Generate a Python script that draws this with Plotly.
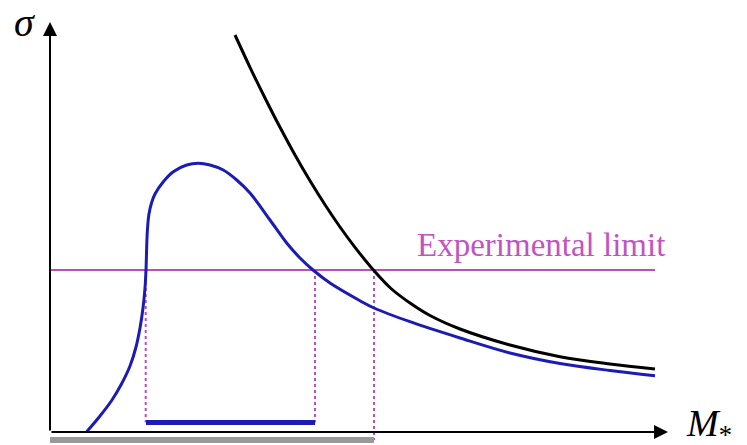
import plotly.graph_objects as go

# schematic units (no ticks), origin at the axes corner
signal_x = [36.7, 50, 62, 72, 80, 86, 90, 93, 95, 96, 96.6, 97.3, 98.8, 101.5, 105, 113.3,
            123.3, 136.7, 148.3, 160, 173.3, 186.7, 200, 220, 236.7, 250, 263, 280, 310, 324,
            360, 410, 460, 510, 560, 605]
signal_y = [0.3, 16, 32, 49, 66, 85, 104, 124, 144, 162, 182, 200, 217, 229, 238, 250.3,
            260.3, 267, 268.7, 267, 262, 252, 239, 212, 189, 174, 162, 149, 131.3, 124,
            110.3, 94, 79, 68.5, 61.5, 56.3]

bound_x = [185, 200, 215, 230, 245, 260, 275, 290, 305, 323, 341, 360, 380, 410, 460, 510, 560, 605]
bound_y = [397, 364.7, 334, 304.7, 277, 251.2, 227.2, 205, 184.7, 162.5, 143.5, 129, 116.5,
           103, 87, 75.3, 68, 63]

limit_y = 162
limit_x_end = 605
cross_x = [95.7, 265, 324]          # where curves meet the limit
excluded_band = [96, 265]           # blue segment
reach_band = [0, 324]               # gray segment
x_end, y_end = 618, 410

MAG = "#b94fbb"
BLUE = "#1c1cb4"

fig = go.Figure()

fig.add_trace(go.Scatter(x=[0, limit_x_end], y=[limit_y, limit_y], mode="lines",
                         line=dict(color=MAG, width=2)))

for i, cx in enumerate(cross_x):
    bottom = -8 if i == 2 else 9.5
    fig.add_trace(go.Scatter(x=[cx, cx], y=[limit_y, bottom], mode="lines",
                             line=dict(color=MAG, width=2, dash="dot")))

fig.add_trace(go.Scatter(x=signal_x, y=signal_y, mode="lines", line_shape="spline",
                         line=dict(color=BLUE, width=3)))
fig.add_trace(go.Scatter(x=bound_x, y=bound_y, mode="lines", line_shape="spline",
                         line=dict(color="black", width=3)))

fig.add_trace(go.Scatter(x=excluded_band, y=[9.5, 9.5], mode="lines",
                         line=dict(color=BLUE, width=5)))
fig.add_trace(go.Scatter(x=reach_band, y=[-8, -8], mode="lines",
                         line=dict(color="#999999", width=6)))

# axes with arrows
fig.add_annotation(x=0, y=y_end, ax=0, ay=0, xref="x", yref="y", axref="x", ayref="y",
                   text="", showarrow=True, arrowhead=2, arrowsize=1.4, arrowwidth=2,
                   arrowcolor="black")
fig.add_annotation(x=x_end, y=0, ax=0, ay=0, xref="x", yref="y", axref="x", ayref="y",
                   text="", showarrow=True, arrowhead=2, arrowsize=1.4, arrowwidth=2,
                   arrowcolor="black")

fig.add_annotation(x=-26, y=410, text="<i>σ</i>", showarrow=False,
                   font=dict(family="Liberation Serif", size=40, color="black"))
fig.add_annotation(x=634, y=6, xanchor="left", text="<i>M</i><sub>*</sub>", showarrow=False,
                   font=dict(family="Liberation Serif", size=38, color="black"))
fig.add_annotation(x=491, y=187, text="Experimental limit", showarrow=False,
                   font=dict(family="Liberation Serif", size=33, color="#c055c2"))

fig.update_layout(
    width=747, height=445,
    margin=dict(l=0, r=0, t=0, b=0),
    paper_bgcolor="white", plot_bgcolor="white",
    showlegend=False,
    xaxis=dict(range=[-42, 705], visible=False, fixedrange=True),
    yaxis=dict(range=[-21, 424], visible=False, fixedrange=True),
)

fig.write_html("out.html")
